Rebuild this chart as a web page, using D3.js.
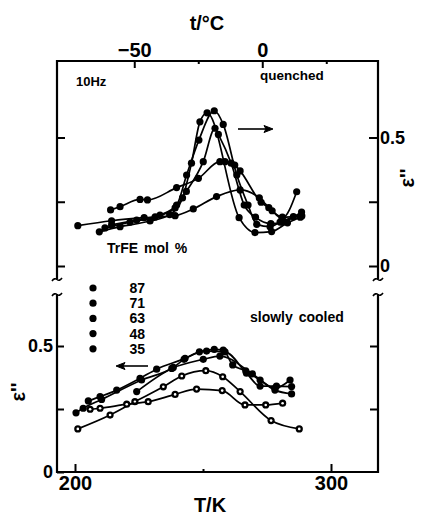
<!DOCTYPE html>
<html><head><meta charset="utf-8">
<script src="https://cdn.jsdelivr.net/npm/d3@7"></script>
<style>
html,body{margin:0;padding:0;background:#fff}
svg{display:block}
text{font-family:"Liberation Sans",Arial,sans-serif;fill:#000;font-weight:bold}
</style>
</head><body>
<svg id="c" width="421" height="517"></svg>
<script>
// ---------- data ----------
const compositions = ["87", "71", "63", "48", "35"];
// quenched (upper panel): [T/K, eps'']
const quenched87 = [[209.5,0.133],[217.6,0.153],[229.3,0.175],[237.0,0.200],[242.0,0.265],[245.5,0.400],[248.8,0.561],[251.6,0.596],[264.1,0.188],[270.3,0.130],[276.8,0.134],[283.0,0.168],[288.0,0.190]];
const quenched71 = [[214.3,0.160],[224.1,0.179],[233.2,0.198],[239.7,0.237],[243.6,0.354],[248.4,0.490],[254.4,0.604],[257.9,0.551],[263.2,0.354],[267.6,0.237],[271.0,0.162],[276.2,0.153],[280.1,0.171],[285.3,0.192]];
const quenched63 = [[211.7,0.148],[221.5,0.171],[231.3,0.191],[239.1,0.226],[243.5,0.290],[250.1,0.406],[254.7,0.536],[256.0,0.512],[261.0,0.400],[266.1,0.237],[270.5,0.190],[276.5,0.165],[281.0,0.170],[288.5,0.210]];
const quenched48 = [[213.9,0.218],[217.6,0.231],[225.4,0.259],[228.3,0.257],[239.7,0.305],[248.2,0.341],[256.6,0.406],[258.6,0.406],[262.4,0.393],[264.5,0.370],[272.7,0.248],[275.7,0.227],[280.9,0.186],[286.6,0.289]];
const quenched35 = [[201.1,0.157],[214.3,0.176],[227.0,0.188],[239.1,0.196],[246.2,0.222],[255.3,0.270],[264.5,0.296],[272.0,0.265],[277.0,0.215],[281.0,0.190],[288.6,0.195]];
// slowly cooled (lower panel)
const slow87 = [[205.2,0.282],[209.8,0.299],[216.3,0.325],[225.4,0.372],[231.9,0.408],[243.0,0.451],[248.6,0.477],[254.4,0.487],[257.9,0.484],[261.6,0.425],[266.7,0.401],[272.3,0.365],[278.1,0.332],[284.0,0.365]];
const slow71 = [[200.4,0.235],[203.2,0.253],[210.4,0.288],[226.0,0.365],[238.4,0.415],[242.6,0.447],[251.4,0.480],[258.6,0.477],[267.0,0.392],[272.3,0.341],[278.7,0.341],[284.6,0.339]];
const slow63 = [[224.1,0.319],[237.8,0.411],[250.1,0.447],[256.6,0.460],[269.3,0.389],[278.1,0.325],[284.6,0.310]];
const slow48 = [[201.1,0.171],[213.7,0.226],[223.4,0.279],[234.5,0.338],[241.7,0.381],[251.1,0.402],[257.7,0.378],[264.5,0.319],[276.6,0.204],[287.6,0.171]];
const slow35 = [[205.9,0.249],[209.8,0.253],[220.2,0.269],[228.6,0.279],[239.1,0.308],[247.5,0.329],[257.5,0.323],[266.4,0.266],[274.5,0.266],[281.1,0.273]];

const kelvinTicks = [200, 250, 300];
const kelvinLabels = ["200", "", "300"];
const celsiusTicks = [-50, -25, 0, 25];
const celsiusLabels = ["\u221250", "", "0", ""];
const epsTicks = [0, 0.25, 0.5];
const epsLabels = ["0", "", "0.5"];

// ---------- layout ----------
const svg = d3.select("#c");
const L = 57, R = 378;
const upTop = 61, upBot = 279, loTop = 294, loBot = 472;
const FONT = '"Liberation Sans",Arial,sans-serif';

const x = d3.scaleLinear().domain([200, 300]).range([75, 331]);
const xC = d3.scaleLinear().domain([-73.15, 26.85]).range([75, 331]);
const yU = d3.scaleLinear().domain([0, 0.5]).range([266, 137.5]);
const yL = d3.scaleLinear().domain([0, 0.5]).range([472, 346]);

// frame
const frame = svg.append("g").attr("fill", "none").attr("stroke", "#000").attr("stroke-width", 2.2);
frame.append("path").attr("d", `M${L},${upBot}V${upTop}H${R}V${upBot}`);
frame.append("path").attr("d", `M${L},${loTop}V${loBot}H${R}V${loTop}`);
// break marks
const brk = svg.append("g").attr("fill", "none").attr("stroke", "#000").attr("stroke-width", 1.6);
[L, R].forEach(px => {
  brk.append("path").attr("d", `M${px-5},${upBot+2} q2.5,-3.5 5,-1.5 t5,-1.5`);
  brk.append("path").attr("d", `M${px-5},${loTop+2} q2.5,-3.5 5,-1.5 t5,-1.5`);
});

function styleAxis(g, fs) {
  g.select(".domain").remove();
  g.selectAll(".tick line").attr("stroke", "#000").attr("stroke-width", 2);
  g.selectAll(".tick text").attr("font-size", fs).attr("font-family", FONT)
    .attr("font-weight", "bold").attr("fill", "#000");
}

// bottom axis (K)
const gb = svg.append("g").attr("transform", `translate(0,${loBot})`)
  .call(d3.axisBottom(x).tickValues(kelvinTicks).tickSize(-8).tickPadding(4).tickFormat((d, i) => kelvinLabels[i]));
styleAxis(gb, 20);
gb.selectAll(".tick line").filter(d => d === 250).attr("y2", -3);

// top axis (°C)
const gt = svg.append("g").attr("transform", `translate(0,${upTop})`)
  .call(d3.axisTop(xC).tickValues(celsiusTicks).tickSize(-7).tickPadding(4).tickFormat((d, i) => celsiusLabels[i]));
styleAxis(gt, 20);
gt.selectAll(".tick line").filter(d => d === -25 || d === 25).attr("y2", 3);

// left axes
const glu = svg.append("g").attr("transform", `translate(${L},0)`)
  .call(d3.axisLeft(yU).tickValues(epsTicks).tickSize(-8).tickFormat(""));
styleAxis(glu, 18);
const gll = svg.append("g").attr("transform", `translate(${L},0)`)
  .call(d3.axisLeft(yL).tickValues(epsTicks).tickSize(-7).tickPadding(4).tickFormat((d, i) => epsLabels[i]));
styleAxis(gll, 18);
// right axes
const gru = svg.append("g").attr("transform", `translate(${R},0)`)
  .call(d3.axisRight(yU).tickValues(epsTicks).tickSize(-9).tickPadding(2).tickFormat((d, i) => epsLabels[i]));
styleAxis(gru, 18);
gru.selectAll(".tick text").attr("x", 2);
const grl = svg.append("g").attr("transform", `translate(${R},0)`)
  .call(d3.axisRight(yL).tickValues([0.25, 0.5]).tickSize(-8).tickFormat(""));
styleAxis(grl, 18);

// ---------- series ----------
const plot = svg.append("g");
function drawSeries(data, yS, open) {
  const line = d3.line().x(d => x(d[0])).y(d => yS(d[1])).curve(d3.curveMonotoneX);
  plot.append("path").datum(data).attr("d", line)
    .attr("fill", "none").attr("stroke", "#000").attr("stroke-width", 1.7);
  const g = plot.append("g");
  g.selectAll("circle.m").data(data).join("circle").attr("class", "m")
    .attr("cx", d => x(d[0])).attr("cy", d => yS(d[1])).attr("r", 3.6).attr("fill", "#000");
  if (open) {
    g.selectAll("circle.o").data(data).join("circle").attr("class", "o")
      .attr("cx", d => x(d[0])).attr("cy", d => yS(d[1])).attr("r", 1.3).attr("fill", "#fff");
  }
}
[quenched87, quenched71, quenched63, quenched48, quenched35].forEach(s => drawSeries(s, yU, false));
[slow87, slow71, slow63].forEach(s => drawSeries(s, yL, false));
[slow48, slow35].forEach(s => drawSeries(s, yL, true));

// ---------- legend ----------
const leg = svg.append("g");
compositions.forEach((c, i) => {
  const yy = 288 + i * 15.2;
  leg.append("circle").attr("cx", 93).attr("cy", yy).attr("r", 3.6).attr("fill", "#000");
  leg.append("text").attr("x", 145).attr("y", yy + 5).attr("text-anchor", "end").attr("font-size", 14).text(c);
});

// ---------- arrows ----------
const arr = svg.append("g").attr("stroke", "#000").attr("stroke-width", 1.6).attr("fill", "#000");
arr.append("line").attr("x1", 238).attr("y1", 129).attr("x2", 268).attr("y2", 129);
arr.append("path").attr("d", "M273,129 L264,125.5 L266,129 L264,132.5 Z").attr("stroke-width", 1);
arr.append("line").attr("x1", 148).attr("y1", 366).attr("x2", 122).attr("y2", 366);
arr.append("path").attr("d", "M116,366 L125,362.5 L123,366 L125,369.5 Z").attr("stroke-width", 1);

// ---------- texts ----------
svg.append("text").attr("x", 207).attr("y", 30).attr("text-anchor", "middle").attr("font-size", 20).text("t/\u00b0C");
svg.append("text").attr("x", 210).attr("y", 512).attr("text-anchor", "middle").attr("font-size", 20).text("T/K");
svg.append("text").attr("x", 76).attr("y", 86).attr("font-size", 13).text("10Hz");
svg.append("text").attr("x", 260).attr("y", 80).attr("font-size", 13.5).text("quenched");
svg.append("text").attr("x", 107).attr("y", 253).attr("font-size", 14).attr("word-spacing", 2).text("TrFE mol %");
svg.append("text").attr("x", 250).attr("y", 322).attr("font-size", 14).attr("word-spacing", 2).text("slowly cooled");
svg.append("text").attr("transform", "translate(25,392) rotate(-90)").attr("text-anchor", "middle").attr("font-size", 20).text("\u03b5''");
svg.append("text").attr("transform", "translate(414,178) rotate(-90)").attr("text-anchor", "middle").attr("font-size", 20).text("\u03b5''");
</script>
</body></html>
